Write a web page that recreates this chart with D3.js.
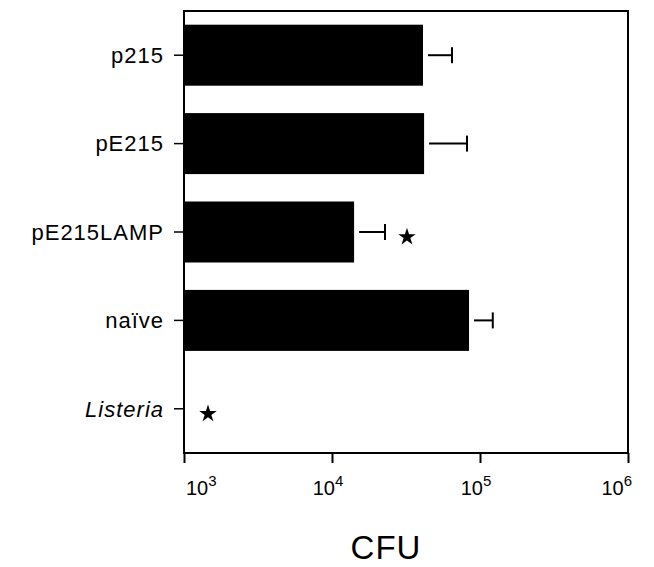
<!DOCTYPE html>
<html>
<head>
<meta charset="utf-8">
<script src="https://cdn.jsdelivr.net/npm/d3@7"></script>
<style>
  body { margin: 0; background: #fff; }
  text { font-family: "Liberation Sans", Arial, Helvetica, sans-serif; fill: #000; }
</style>
</head>
<body>
<svg id="chart" width="654" height="567"></svg>
<script>
// groups, top to bottom
const groups = ['p215', 'pE215', 'pE215LAMP', 'naïve', 'Listeria'];
// mean CFU (Listeria has no bar, below 10^3)
const cfu = [41200, 41900, 14100, 84300, null];
// upper end of error bar
const cfuErr = [64700, 81700, 22800, 122000, null];
// significance stars
const starred = ['pE215LAMP', 'Listeria'];
const xTicks = [1e3, 1e4, 1e5, 1e6];
const xTickExp = ['3', '4', '5', '6'];

const svg = d3.select('#chart');
const plotL = 184, plotR = 628, plotT = 11, plotB = 453;

const x = d3.scaleLog().domain([1e3, 1e6]).range([plotL, plotR]);
const y = d3.scaleBand().domain(groups).range([plotT, plotB])
    .paddingInner(0.31).paddingOuter(0.155);

const rows = groups.map((g, i) => ({ g: g, v: cfu[i], e: cfuErr[i] }));

// bars
svg.append('g').selectAll('rect')
    .data(rows.filter(d => d.v != null))
    .enter().append('rect')
    .attr('x', x(1e3))
    .attr('y', d => y(d.g))
    .attr('width', d => x(d.v) - x(1e3))
    .attr('height', y.bandwidth())
    .attr('fill', '#000');

// error bars (one sided, small gap after bar)
let eb = svg.append('g').selectAll('g')
    .data(rows.filter(d => d.e != null))
    .enter().append('g');
eb.append('line')
    .attr('x1', d => x(d.v) + 5)
    .attr('x2', d => x(d.e))
    .attr('y1', d => y(d.g) + y.bandwidth() / 2)
    .attr('y2', d => y(d.g) + y.bandwidth() / 2)
    .attr('stroke', '#000').attr('stroke-width', 2);
eb.append('line')
    .attr('x1', d => x(d.e))
    .attr('x2', d => x(d.e))
    .attr('y1', d => y(d.g) + y.bandwidth() / 2 - 8)
    .attr('y2', d => y(d.g) + y.bandwidth() / 2 + 8)
    .attr('stroke', '#000').attr('stroke-width', 2);

// stars
svg.append('g').selectAll('path')
    .data(rows.filter(d => starred.includes(d.g)))
    .enter().append('path')
    .attr('d', d3.symbol(d3.symbolStar, 95))
    .attr('transform', d => {
      const sx = d.e != null ? x(d.e) + 22 : x(1e3) + 24;
      return 'translate(' + sx + ',' + (y(d.g) + y.bandwidth() / 2 + 5) + ')';
    })
    .attr('fill', '#000');

// frame
svg.append('rect')
    .attr('x', plotL).attr('y', plotT)
    .attr('width', plotR - plotL).attr('height', plotB - plotT)
    .attr('fill', 'none').attr('stroke', '#000').attr('stroke-width', 2);

// y axis
const yAxis = svg.append('g')
    .attr('transform', 'translate(' + plotL + ',0)')
    .call(d3.axisLeft(y).tickSize(10).tickPadding(10));
yAxis.select('.domain').remove();
yAxis.selectAll('line').attr('stroke-width', 1.5);
yAxis.selectAll('text')
    .attr('font-size', 22)
    .attr('letter-spacing', 1)
    .attr('dy', '0.35em')
    .style('font-style', d => d === 'Listeria' ? 'italic' : 'normal');

// x axis
const xAxis = svg.append('g')
    .attr('transform', 'translate(0,' + plotB + ')')
    .call(d3.axisBottom(x).tickValues(xTicks).tickSize(10).tickFormat(''));
xAxis.select('.domain').remove();
xAxis.selectAll('line').attr('stroke-width', 2);

const tl = svg.append('g').selectAll('text')
    .data(xTicks)
    .enter().append('text')
    .attr('x', (d, i) => x(d) + [2, -4, -4, 4][i])
    .attr('y', plotB + 42)
    .attr('font-size', 20)
    .attr('text-anchor', (d, i) => i === 0 ? 'start' : (i === xTicks.length - 1 ? 'end' : 'middle'));
tl.append('tspan').text('10');
tl.append('tspan')
    .attr('dy', -9)
    .attr('font-size', 15)
    .text((d, i) => xTickExp[i]);

svg.append('text')
    .attr('x', (plotL + plotR) / 2 - 20)
    .attr('y', 559)
    .attr('text-anchor', 'middle')
    .attr('font-size', 33)
    .attr('letter-spacing', 1)
    .text('CFU');
</script>
</body>
</html>
